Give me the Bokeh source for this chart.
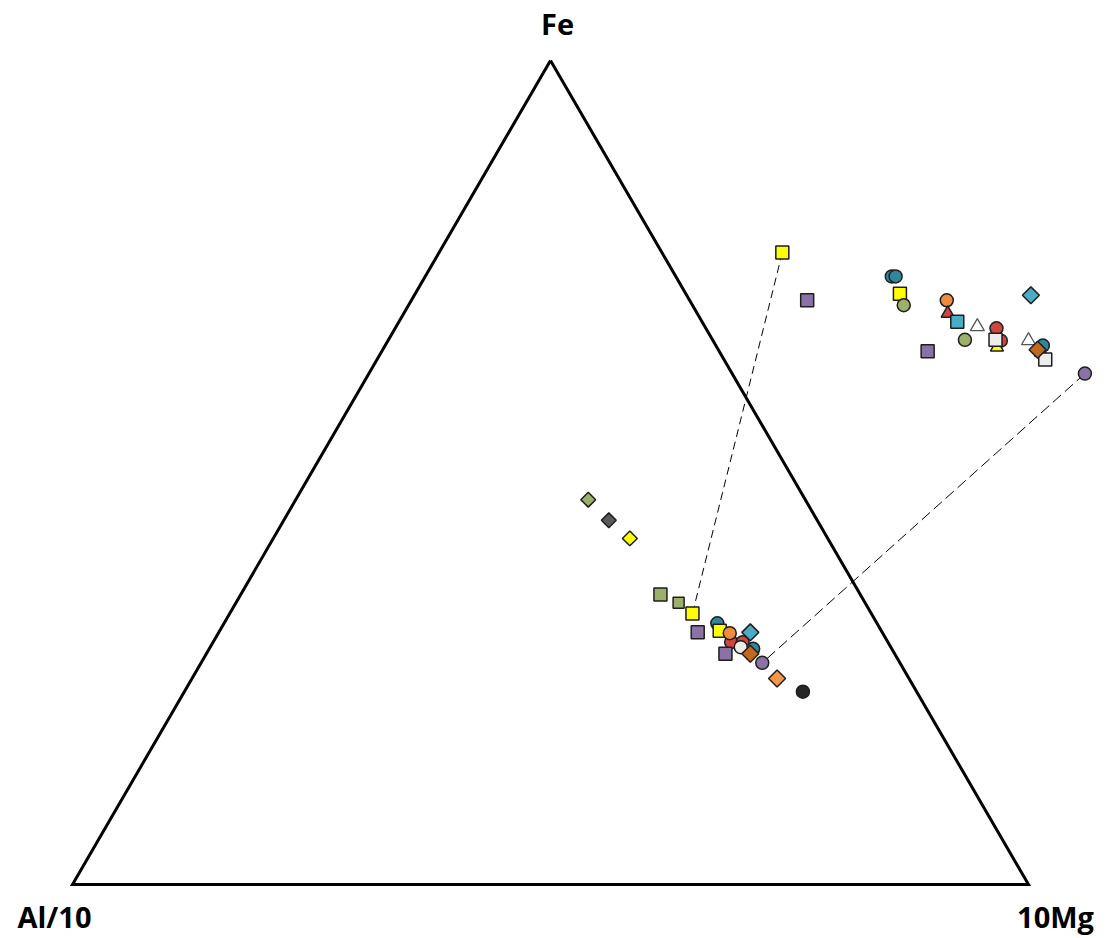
import numpy as np
from bokeh.plotting import figure
from bokeh.models import Label
from bokeh.embed import file_html
from bokeh.resources import INLINE

# ---- Data: ternary compositions in % (Fe, 10Mg); Al/10 = 100 - Fe - Mg ----
sq_yellow_fe = [76.7, 71.7, 32.9, 30.8]
sq_yellow_mg = [35.9, 50.7, 48.4, 52.3]
sq_purple_fe = [70.9, 64.7, 30.6, 28.0]
sq_purple_mg = [41.4, 57.1, 50.1, 54.3]
sq_green_fe = [35.2]
sq_green_mg = [43.9]
sq_green_small_fe = [34.2]
sq_green_small_mg = [46.3]
sq_teal_fe = [68.3]
sq_teal_mg = [58.4]
sq_white_fe = [66.1, 63.7]
sq_white_mg = [63.5, 69.9]
circ_teal_fe = [73.8, 73.8, 65.4, 31.7, 28.6]
circ_teal_mg = [48.8, 49.2, 68.8, 51.6, 56.9]
circ_green_fe = [70.3, 66.1]
circ_green_mg = [51.8, 60.3]
circ_orange_fe = [70.9, 30.5]
circ_orange_mg = [56.0, 53.5]
circ_red_fe = [67.5, 66.0, 29.4, 29.4]
circ_red_mg = [62.9, 64.1, 54.2, 55.4]
circ_purple_fe = [62.0, 26.9]
circ_purple_mg = [74.9, 58.7]
circ_black_fe = [23.4]
circ_black_mg = [64.7]
circ_white_fe = [28.8]
circ_white_mg = [55.5]
tri_red_fe = [69.3, 64.6]
tri_red_mg = [56.9, 69.0]
tri_white_fe = [67.7, 66.0]
tri_white_mg = [60.8, 67.0]
tri_yellow_fe = [65.2]
tri_yellow_mg = [64.1]
dia_teal_fe = [71.5, 30.6]
dia_teal_mg = [64.5, 55.6]
dia_brown_fe = [64.9, 28.0]
dia_brown_mg = [68.5, 56.9]
dia_orange_fe = [25.0]
dia_orange_mg = [61.2]
dia_green_fe = [46.7]
dia_green_mg = [30.6]
dia_gray_fe = [44.2]
dia_gray_mg = [34.0]
dia_yellow_fe = [42.0]
dia_yellow_mg = [37.3]

# tie lines (Fe, Mg) pairs: yellow squares and purple circles
tie1_fe = [sq_yellow_fe[0], sq_yellow_fe[2]]
tie1_mg = [sq_yellow_mg[0], sq_yellow_mg[2]]
tie2_fe = [circ_purple_fe[0], circ_purple_fe[1]]
tie2_mg = [circ_purple_mg[0], circ_purple_mg[1]]

vertex_labels = ["Fe", "Al/10", "10Mg"]


def to_xy(fe, mg):
    fe = np.asarray(fe, dtype=float) / 100.0
    mg = np.asarray(mg, dtype=float) / 100.0
    return mg + fe / 2.0, fe


W, H = 1100, 936
# pixel geometry of the triangle inside the frame
px_al, px_mg, py_base, py_top = 72, 1028, 884, 60
sx = (px_mg - px_al)
sy = (py_base - py_top)
x_range = (-px_al / sx, (W - px_al) / sx)
y_range = (-(H - py_base) / sy, py_base / sy)

p = figure(width=W, height=H, output_backend="svg", toolbar_location=None,
           x_range=x_range, y_range=y_range, min_border=0)
p.axis.visible = False
p.grid.visible = False
p.outline_line_color = None
p.background_fill_color = "white"

# triangle
tx, ty = to_xy([100, 0, 0, 100], [0, 0, 100, 0])
p.line(tx, ty, line_color="black", line_width=3, line_join="miter")

# tie lines
x1, y1 = to_xy(tie1_fe, tie1_mg)
p.line(x1, y1, line_color="black", line_width=1, line_dash="8 5")
x2, y2 = to_xy(tie2_fe, tie2_mg)
p.line(x2, y2, line_color="black", line_width=1, line_dash="11 5")

OL = "#1e1e1e"


def sc(fe, mg, marker, color, size, angle=0.0, lc=OL, lw=1.5):
    x, y = to_xy(fe, mg)
    p.scatter(x, y, marker=marker, size=size, fill_color=color, line_color=lc,
              line_width=lw, angle=angle)


D = np.pi / 4
sc(dia_green_fe, dia_green_mg, "square", "#9BB068", 10.5, D)
sc(dia_gray_fe, dia_gray_mg, "square", "#5A5A5A", 10.5, D)
sc(dia_yellow_fe, dia_yellow_mg, "square", "#FFFF00", 10.5, D)
sc(sq_green_fe, sq_green_mg, "square", "#9BB068", 13)
sc(sq_green_small_fe, sq_green_small_mg, "square", "#9BB068", 11)
sc(circ_red_fe, circ_red_mg, "circle", "#D0453F", 13)
sc(circ_teal_fe, circ_teal_mg, "circle", "#31859C", 13)
sc(sq_yellow_fe, sq_yellow_mg, "square", "#FFFF00", 13)
sc(circ_green_fe, circ_green_mg, "circle", "#9BB068", 13)
sc(circ_orange_fe, circ_orange_mg, "circle", "#F08A3C", 13)
sc(tri_yellow_fe, tri_yellow_mg, "triangle", "#FFFF00", 13)
sc(tri_red_fe, tri_red_mg, "triangle", "#D0453F", 13)
sc(sq_teal_fe, sq_teal_mg, "square", "#4BACC6", 13)
sc(tri_white_fe, tri_white_mg, "triangle", "white", 14, lc="#555555", lw=1.3)
sc(circ_white_fe, circ_white_mg, "circle", "#EDEDE6", 13)
sc(sq_white_fe, sq_white_mg, "square", "#EDEDED", 13)
sc(sq_purple_fe, sq_purple_mg, "square", "#8872A6", 13)
sc(dia_teal_fe, dia_teal_mg, "square", "#4BACC6", 12, D)
sc(dia_brown_fe, dia_brown_mg, "square", "#C0681E", 12, D)
sc(circ_purple_fe, circ_purple_mg, "circle", "#8872A6", 13)
sc(dia_orange_fe, dia_orange_mg, "square", "#F79646", 12, D)
sc(circ_black_fe, circ_black_mg, "circle", "#262626", 13)

# vertex labels
vx, vy = to_xy([100, 0, 0], [0, 0, 100])
offs = [(7, 37), (-18, -32), (27, -32)]
for lab, x, y, (ox, oy) in zip(vertex_labels, vx, vy, offs):
    p.add_layout(Label(x=x, y=y, x_offset=ox, y_offset=oy, text=lab,
                       text_font="Open Sans", text_font_style="bold",
                       text_font_size="29px", text_align="center",
                       text_baseline="alphabetic", text_color="black"))

open("out.html", "w").write(file_html(p, INLINE))
